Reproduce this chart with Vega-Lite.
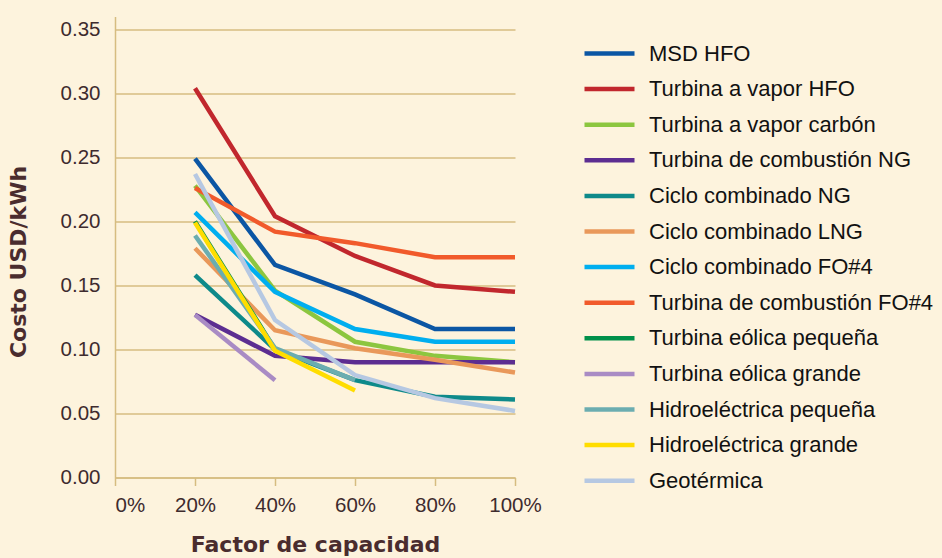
{
  "$schema": "https://vega.github.io/schema/vega-lite/v6.json",
  "width": 400,
  "height": 461,
  "autosize": {"type": "none"},
  "padding": {"left": 115, "top": 16.5, "right": 427, "bottom": 80.5},
  "background": "#FDF3DD",
  "config": {"view": {"stroke": null}, "font": "Liberation Sans"},
  "data": {
    "values": [
      {"s": "MSD HFO", "x": 0.2, "y": 0.249},
      {"s": "MSD HFO", "x": 0.4, "y": 0.166},
      {"s": "MSD HFO", "x": 0.6, "y": 0.143},
      {"s": "MSD HFO", "x": 0.8, "y": 0.116},
      {"s": "MSD HFO", "x": 1.0, "y": 0.116},
      {"s": "Turbina a vapor HFO", "x": 0.2, "y": 0.304},
      {"s": "Turbina a vapor HFO", "x": 0.4, "y": 0.204},
      {"s": "Turbina a vapor HFO", "x": 0.6, "y": 0.173},
      {"s": "Turbina a vapor HFO", "x": 0.8, "y": 0.150},
      {"s": "Turbina a vapor HFO", "x": 1.0, "y": 0.145},
      {"s": "Turbina a vapor carbón", "x": 0.2, "y": 0.228},
      {"s": "Turbina a vapor carbón", "x": 0.4, "y": 0.146},
      {"s": "Turbina a vapor carbón", "x": 0.6, "y": 0.106},
      {"s": "Turbina a vapor carbón", "x": 0.8, "y": 0.095},
      {"s": "Turbina a vapor carbón", "x": 1.0, "y": 0.090},
      {"s": "Turbina de combustión NG", "x": 0.2, "y": 0.127},
      {"s": "Turbina de combustión NG", "x": 0.4, "y": 0.095},
      {"s": "Turbina de combustión NG", "x": 0.6, "y": 0.090},
      {"s": "Turbina de combustión NG", "x": 0.8, "y": 0.090},
      {"s": "Turbina de combustión NG", "x": 1.0, "y": 0.090},
      {"s": "Ciclo combinado NG", "x": 0.2, "y": 0.158},
      {"s": "Ciclo combinado NG", "x": 0.4, "y": 0.100},
      {"s": "Ciclo combinado NG", "x": 0.6, "y": 0.076},
      {"s": "Ciclo combinado NG", "x": 0.8, "y": 0.063},
      {"s": "Ciclo combinado NG", "x": 1.0, "y": 0.061},
      {"s": "Ciclo combinado LNG", "x": 0.2, "y": 0.179},
      {"s": "Ciclo combinado LNG", "x": 0.4, "y": 0.115},
      {"s": "Ciclo combinado LNG", "x": 0.6, "y": 0.101},
      {"s": "Ciclo combinado LNG", "x": 0.8, "y": 0.092},
      {"s": "Ciclo combinado LNG", "x": 1.0, "y": 0.082},
      {"s": "Ciclo combinado FO#4", "x": 0.2, "y": 0.207},
      {"s": "Ciclo combinado FO#4", "x": 0.4, "y": 0.145},
      {"s": "Ciclo combinado FO#4", "x": 0.6, "y": 0.116},
      {"s": "Ciclo combinado FO#4", "x": 0.8, "y": 0.106},
      {"s": "Ciclo combinado FO#4", "x": 1.0, "y": 0.106},
      {"s": "Turbina de combustión FO#4", "x": 0.2, "y": 0.226},
      {"s": "Turbina de combustión FO#4", "x": 0.4, "y": 0.192},
      {"s": "Turbina de combustión FO#4", "x": 0.6, "y": 0.183},
      {"s": "Turbina de combustión FO#4", "x": 0.8, "y": 0.172},
      {"s": "Turbina de combustión FO#4", "x": 1.0, "y": 0.172},
      {"s": "Turbina eólica pequeña", "x": 0.2, "y": 0.200},
      {"s": "Turbina eólica pequeña", "x": 0.4, "y": 0.100},
      {"s": "Turbina eólica grande", "x": 0.2, "y": 0.127},
      {"s": "Turbina eólica grande", "x": 0.4, "y": 0.076},
      {"s": "Hidroeléctrica pequeña", "x": 0.2, "y": 0.189},
      {"s": "Hidroeléctrica pequeña", "x": 0.4, "y": 0.101},
      {"s": "Hidroeléctrica pequeña", "x": 0.6, "y": 0.076},
      {"s": "Hidroeléctrica grande", "x": 0.2, "y": 0.199},
      {"s": "Hidroeléctrica grande", "x": 0.4, "y": 0.099},
      {"s": "Hidroeléctrica grande", "x": 0.6, "y": 0.068},
      {"s": "Geotérmica", "x": 0.2, "y": 0.237},
      {"s": "Geotérmica", "x": 0.4, "y": 0.123},
      {"s": "Geotérmica", "x": 0.6, "y": 0.080},
      {"s": "Geotérmica", "x": 0.8, "y": 0.062},
      {"s": "Geotérmica", "x": 1.0, "y": 0.052}
    ]
  },
  "mark": {"type": "line", "strokeWidth": 4.5},
  "encoding": {
    "x": {
      "field": "x",
      "type": "quantitative",
      "scale": {"domain": [0, 1], "nice": false},
      "axis": {
        "title": "Factor de capacidad",
        "values": [0, 0.2, 0.4, 0.6, 0.8, 1],
        "format": ".0%",
        "grid": false,
        "domainColor": "#D6BC80",
        "domainWidth": 1.5,
        "tickColor": "#D6BC80",
        "tickSize": 8,
        "tickWidth": 1.5,
        "labelFont": "Liberation Sans",
        "labelFontSize": 20.5,
        "labelColor": "#3E2B2E",
        "labelPadding": 10,
        "labelAlign": {"condition": {"test": "datum.value === 0", "value": "left"}, "value": "center"},
        "titleFont": "DejaVu Sans",
        "titleFontSize": 22,
        "titleFontWeight": "bold",
        "titleColor": "#4A2C2E",
        "titlePadding": 18
      }
    },
    "y": {
      "field": "y",
      "type": "quantitative",
      "scale": {"domain": [0, 0.36], "nice": false},
      "axis": {
        "title": "Costo USD/kWh",
        "values": [0, 0.05, 0.1, 0.15, 0.2, 0.25, 0.3, 0.35],
        "format": ".2f",
        "grid": true,
        "gridColor": "#D6BC80",
        "gridWidth": 1.5,
        "ticks": false,
        "domainColor": "#D6BC80",
        "domainWidth": 1.5,
        "labelFont": "Liberation Sans",
        "labelFontSize": 20.5,
        "labelColor": "#3E2B2E",
        "labelPadding": 15,
        "titleFont": "DejaVu Sans",
        "titleFontSize": 22,
        "titleFontWeight": "bold",
        "titleColor": "#4A2C2E",
        "titleAngle": -90,
        "titleX": -97,
        "titleY": 245,
        "titleAlign": "center",
        "titleBaseline": "middle"
      }
    },
    "color": {
      "field": "s",
      "type": "nominal",
      "scale": {
        "domain": ["MSD HFO", "Turbina a vapor HFO", "Turbina a vapor carbón", "Turbina de combustión NG", "Ciclo combinado NG", "Ciclo combinado LNG", "Ciclo combinado FO#4", "Turbina de combustión FO#4", "Turbina eólica pequeña", "Turbina eólica grande", "Hidroeléctrica pequeña", "Hidroeléctrica grande", "Geotérmica"],
        "range": ["#0B56A4", "#C1272D", "#8CC63F", "#5C2D91", "#0E8A8A", "#E9985A", "#00AEEF", "#F15A2B", "#00904A", "#A98BC4", "#6BADB0", "#FFDD00", "#B6C8E2"]
      },
      "legend": {
        "title": null,
        "orient": "none",
        "legendX": 467,
        "legendY": 26,
        "symbolType": "stroke",
        "symbolSize": 2500,
        "symbolStrokeWidth": 4.5,
        "labelFont": "Liberation Sans",
        "labelFontSize": 22,
        "labelColor": "#111111",
        "labelOffset": 12,
        "labelLimit": 400,
        "clipHeight": 22,
        "rowPadding": 13.6,
        "padding": 0
      }
    }
  }
}
